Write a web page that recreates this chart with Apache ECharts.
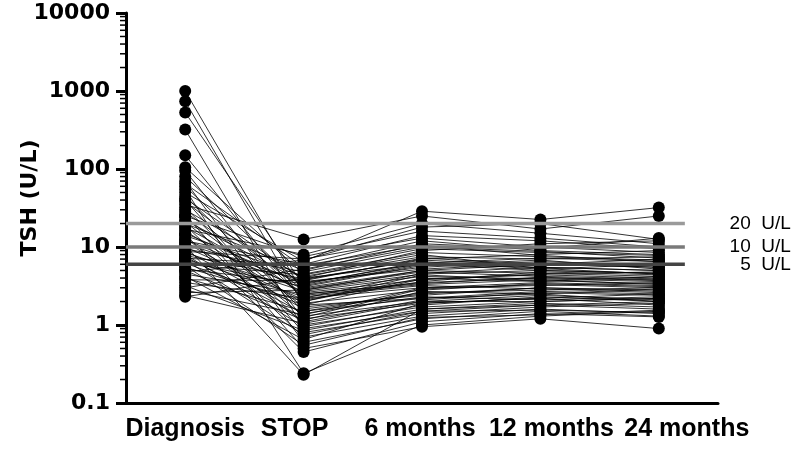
<!DOCTYPE html>
<html>
<head>
<meta charset="utf-8">
<script src="https://cdn.jsdelivr.net/npm/echarts@6/dist/echarts.min.js"></script>
<style>
  html, body { margin: 0; padding: 0; background: #fff; }
</style>
</head>
<body>
<div id="tsh" style="width: 792px; height: 452px;"></div>
<script>
// time points
var categories = ['Diagnosis', 'STOP', '6 months', '12 months', '24 months'];
// small horizontal nudges of the category labels (px), as in the original figure
var labelShift = [0, -9, -2, 11, 28];

// TSH per patient (same order in each array)
var diagnosis = [1000, 740, 530, 320, 150, 105, 95, 80, 70, 65, 60, 55, 50, 45, 42, 40, 38, 35, 32, 30,
  28, 26, 25, 24, 22, 21, 20, 19, 18, 17, 16, 15, 14.5, 14, 13, 12.5, 12, 11.5, 11, 10.5,
  10, 9.5, 9, 8.8, 8.5, 8, 7.8, 7.5, 7.2, 7, 6.8, 6.5, 6.2, 6, 5.8, 5.5, 5.2, 5, 4.8, 4.5,
  4.2, 4, 3.8, 3.5, 3.2, 3, 2.8, 2.6, 2.4, 2.3];
var stop = [2.5, 1.8, 3.2, 0.9, 2.0, 4.5, 1.2, 3.0, 0.6, 5.5, 2.2, 0.24, 6.5, 1.5, 3.8, 0.8, 2.8, 12.5, 1.0, 4.0,
  2.4, 0.5, 7.5, 1.7, 3.5, 1.3, 5.0, 0.7, 2.6, 8.0, 1.9, 3.3, 0.45, 4.2, 1.1, 2.9, 6.0, 1.6, 3.6, 0.23,
  2.1, 4.8, 1.4, 7.0, 2.7, 0.95, 3.9, 1.25, 5.8, 2.3, 0.75, 3.1, 1.8, 4.4, 0.55, 2.0, 3.4, 1.15, 6.8, 2.5,
  0.65, 1.5, 3.7, 2.2, 0.85, 5.2, 1.35, 2.8, 1.05, 4.0];
var month6 = [3.5, 2.2, 6.0, 1.5, 4.0, 8.5, 1.9, 5.0, 1.2, 12, 3.0, 1.0, 28.8, 2.6, 7.0, 1.4, 4.5, 25, 1.7, 9.0,
  3.3, 0.95, 16, 2.4, 5.5, 2.0, 11, 1.3, 3.8, 20, 2.8, 6.5, 1.1, 7.5, 2.1, 4.8, 14, 2.5, 5.2, 1.6,
  3.6, 9.5, 2.3, 13, 4.2, 1.8, 6.8, 2.9, 10.5, 3.2, 1.5, 5.8, 3.9, 8.0, 1.25, 4.4, 6.2, 2.7, 18, 3.4,
  1.9, 2.2, 7.2, 4.6, 1.6, 10, 3.0, 5.0, 2.0, 6.0];
var month12 = [4.0, 2.5, 5.5, 1.8, 3.6, 7.5, 2.2, 6.0, 1.5, 9.0, 3.2, 1.3, 22.5, 2.8, 8.0, 1.7, 5.0, 17, 2.0, 11,
  3.8, 1.2, 13, 3.0, 6.5, 2.4, 9.5, 1.6, 4.4, 15, 3.4, 5.2, 1.4, 7.0, 2.6, 4.2, 12, 3.0, 6.2, 1.9,
  4.8, 8.5, 2.1, 10, 3.9, 2.3, 5.8, 3.3, 7.8, 2.9, 1.55, 6.8, 4.5, 5.3, 1.35, 3.7, 7.2, 2.5, 20, 4.1,
  2.2, 2.7, 6.0, 5.5, 1.8, 8.8, 3.5, 4.6, 2.0, 5.0];
var month24 = [3.8, 2.0, 5.0, 1.6, 4.2, 6.8, 2.5, 7.0, 1.3, 8.0, 3.5, 1.5, 32, 3.0, 9.0, 1.9, 4.6, 25, 2.2, 12,
  3.3, 0.9, 10, 2.8, 5.8, 2.1, 13, 1.4, 4.0, 11, 3.1, 6.0, 1.27, 7.5, 2.4, 3.9, 9.5, 2.7, 5.5, 1.7,
  4.4, 7.8, 2.3, 8.5, 3.6, 2.0, 6.2, 3.0, 6.5, 2.6, 1.45, 5.2, 4.8, 4.5, 1.55, 3.4, 6.5, 2.9, 12.5, 3.7,
  1.8, 2.5, 5.5, 5.0, 2.0, 7.2, 3.2, 4.2, 2.2, 4.6];

// reference lines
var refValues = [20, 10, 6];
var refLabels = ['20  U/L', '10  U/L', '5  U/L'];
var refColors = ['#9a9a9a', '#7a7a7a', '#444444'];
var refStartEnd = [-0.5, 4.22];

// minor ticks for the log axis (2..9 in each decade)
var minorTicks = [];
[0.1, 1, 10, 100, 1000].forEach(function (d) {
  for (var k = 2; k <= 9; k++) minorTicks.push([-0.5, +(d * k).toPrecision(3)]);
});

var categoryData = categories.map(function (c, i) {
  var s = labelShift[i];
  return {
    value: c,
    textStyle: { padding: s >= 0 ? [0, 0, 0, 2 * s] : [0, -2 * s, 0, 0] }
  };
});

var series = [];
for (var i = 0; i < diagnosis.length; i++) {
  series.push({
    type: 'line',
    xAxisIndex: 0,
    data: [diagnosis[i], stop[i], month6[i], month12[i], month24[i]],
    symbol: 'circle',
    symbolSize: 12,
    showSymbol: true,
    itemStyle: { color: '#000' },
    lineStyle: { color: '#000', width: 0.8 },
    emphasis: { disabled: true },
    silent: true,
    animation: false,
    z: 2
  });
}

refValues.forEach(function (v, j) {
  series.push({
    type: 'line',
    xAxisIndex: 1,
    data: [
      { value: [refStartEnd[0], v], label: { show: false } },
      {
        value: [refStartEnd[1], v],
        label: {
          show: true,
          formatter: refLabels[j],
          position: 'right',
          distance: 106,
          align: 'right',
          verticalAlign: 'middle',
          color: '#000',
          fontSize: 19,
          fontFamily: 'Liberation Sans, Arial, sans-serif'
        }
      }
    ],
    symbol: 'circle',
    symbolSize: 0,
    showSymbol: true,
    itemStyle: { color: refColors[j] },
    lineStyle: { color: refColors[j], width: 3.5 },
    silent: true,
    animation: false,
    z: 5
  });
});

series.push({
  type: 'custom',
  xAxisIndex: 1,
  data: minorTicks,
  clip: false,
  silent: true,
  animation: false,
  renderItem: function (params, api) {
    var p = api.coord([api.value(0), api.value(1)]);
    return {
      type: 'line',
      shape: { x1: p[0] - 6, y1: p[1], x2: p[0], y2: p[1] },
      style: { stroke: '#000', lineWidth: 1.5 }
    };
  }
});

var option = {
  backgroundColor: '#fff',
  animation: false,
  grid: { left: 126, right: 74, top: 13, bottom: 49, outerBoundsMode: 'none', containLabel: false },
  xAxis: [
    {
      type: 'category',
      data: categoryData,
      boundaryGap: true,
      axisLine: { lineStyle: { color: '#000', width: 3 } },
      axisTick: { alignWithLabel: true, length: 10, lineStyle: { width: 3 } },
      axisLabel: {
        interval: 0,
        hideOverlap: false,
        margin: 14,
        color: '#000',
        fontSize: 25,
        fontWeight: 'bold',
        fontFamily: 'Liberation Sans, Arial, sans-serif'
      },
      splitLine: { show: false }
    },
    {
      type: 'value',
      min: -0.5,
      max: 4.5,
      show: false
    }
  ],
  yAxis: {
    type: 'log',
    logBase: 10,
    min: 0.1,
    max: 10000,
    name: 'TSH (U/L)',
    nameLocation: 'middle',
    nameGap: 85,
    nameMoveOverlap: false,
    nameTextStyle: {
      color: '#000',
      fontSize: 22,
      fontWeight: 'bold',
      fontFamily: 'DejaVu Sans, sans-serif',
      padding: [0, 0, 0, 20]
    },
    axisLine: { show: true, onZero: false, lineStyle: { color: '#000', width: 3 } },
    axisTick: { show: true, length: 10, lineStyle: { width: 3 } },
    axisLabel: {
      margin: 16,
      color: '#000',
      fontSize: 22,
      fontWeight: 'bold',
      fontFamily: 'DejaVu Sans, sans-serif',
      formatter: function (v) { return String(+v.toPrecision(6)); }
    },
    splitLine: { show: false }
  },
  series: series
};

var chart = echarts.init(document.getElementById('tsh'));
chart.setOption(option);
window.onresize = chart.resize;
</script>
</body>
</html>
